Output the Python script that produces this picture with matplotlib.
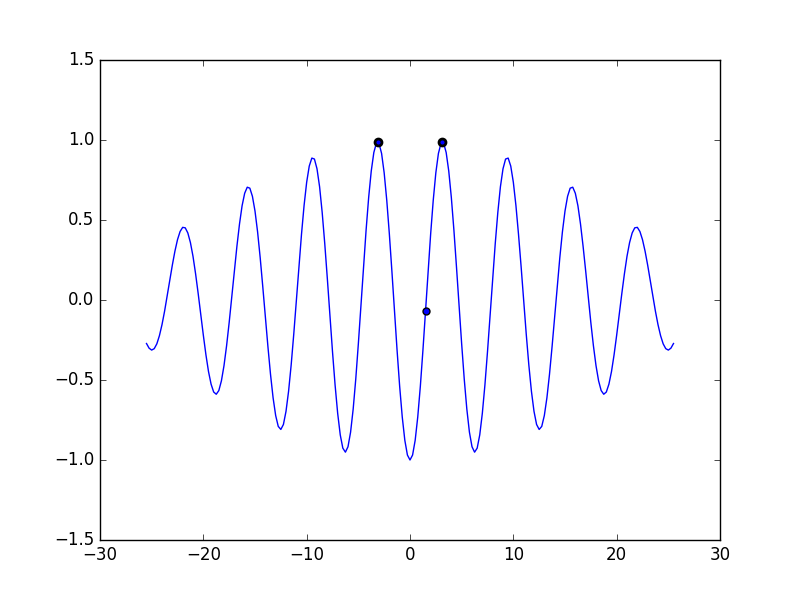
import numpy as np
import matplotlib
matplotlib.use("Agg")
import matplotlib.pyplot as plt

plt.style.use("classic")

# sample grid of the curve (step 0.25)
x = np.linspace(-25.5, 25.5, 205)
y = [
    -0.272, -0.301, -0.313, -0.304, -0.274, -0.223, -0.154, -0.070, 0.024, 0.122,
    0.218, 0.305, 0.377, 0.428, 0.454, 0.451, 0.419, 0.359, 0.273, 0.164,
    0.041, -0.090, -0.220, -0.342, -0.447, -0.526, -0.575, -0.589, -0.566, -0.505,
    -0.410, -0.286, -0.141, 0.019, 0.182, 0.336, 0.475, 0.589, 0.667, 0.705,
    0.699, 0.648, 0.556, 0.426, 0.266, 0.085, -0.105, -0.291, -0.464, -0.611,
    -0.722, -0.790, -0.809, -0.778, -0.696, -0.570, -0.406, -0.214, -0.004, 0.211,
    0.411, 0.591, 0.736, 0.837, 0.887, 0.881, 0.820, 0.708, 0.548, 0.353,
    0.134, -0.096, -0.323, -0.531, -0.708, -0.843, -0.926, -0.951, -0.917, -0.826,
    -0.682, -0.495, -0.275, -0.037, 0.205, 0.436, 0.641, 0.806, 0.922, 0.981,
    0.979, 0.916, 0.795, 0.624, 0.414, 0.178, -0.071, -0.315, -0.540, -0.731,
    -0.877, -0.969,
    -1.000,
    -0.969, -0.877, -0.731, -0.540, -0.315, -0.071, 0.178, 0.414, 0.624, 0.795,
    0.916, 0.979, 0.981, 0.922, 0.806, 0.641, 0.436, 0.205, -0.037, -0.275,
    -0.495, -0.682, -0.826, -0.917, -0.951, -0.926, -0.843, -0.708, -0.531, -0.323,
    -0.096, 0.134, 0.353, 0.548, 0.708, 0.820, 0.881, 0.887, 0.837, 0.736,
    0.591, 0.411, 0.211, -0.004, -0.214, -0.406, -0.570, -0.696, -0.778, -0.809,
    -0.790, -0.722, -0.611, -0.464, -0.291, -0.105, 0.085, 0.266, 0.426, 0.556,
    0.648, 0.699, 0.705, 0.667, 0.589, 0.475, 0.336, 0.182, 0.019, -0.141,
    -0.286, -0.410, -0.505, -0.566, -0.589, -0.575, -0.526, -0.447, -0.342, -0.220,
    -0.090, 0.041, 0.164, 0.273, 0.359, 0.419, 0.451, 0.454, 0.428, 0.377,
    0.305, 0.218, 0.122, 0.024, -0.070, -0.154, -0.223, -0.274, -0.304, -0.313,
    -0.301, -0.272,
]

# highlighted points
peak_x = [-3.1, 3.1]
peak_y = [0.986, 0.986]
mid_x = [1.5]
mid_y = [-0.071]

fig, ax = plt.subplots(figsize=(8, 6), dpi=100)
fig.patch.set_facecolor("white")

ax.plot(x, y, color="b", lw=1)
ax.plot(peak_x, peak_y, "o", color="b", mec="k", mew=2, ms=5)
ax.plot(mid_x, mid_y, "o", color="b", mec="k", mew=1, ms=5)

ax.set_xlim(-30, 30)
ax.set_ylim(-1.5, 1.5)

fig.savefig("out.png", dpi=100, facecolor="white")
